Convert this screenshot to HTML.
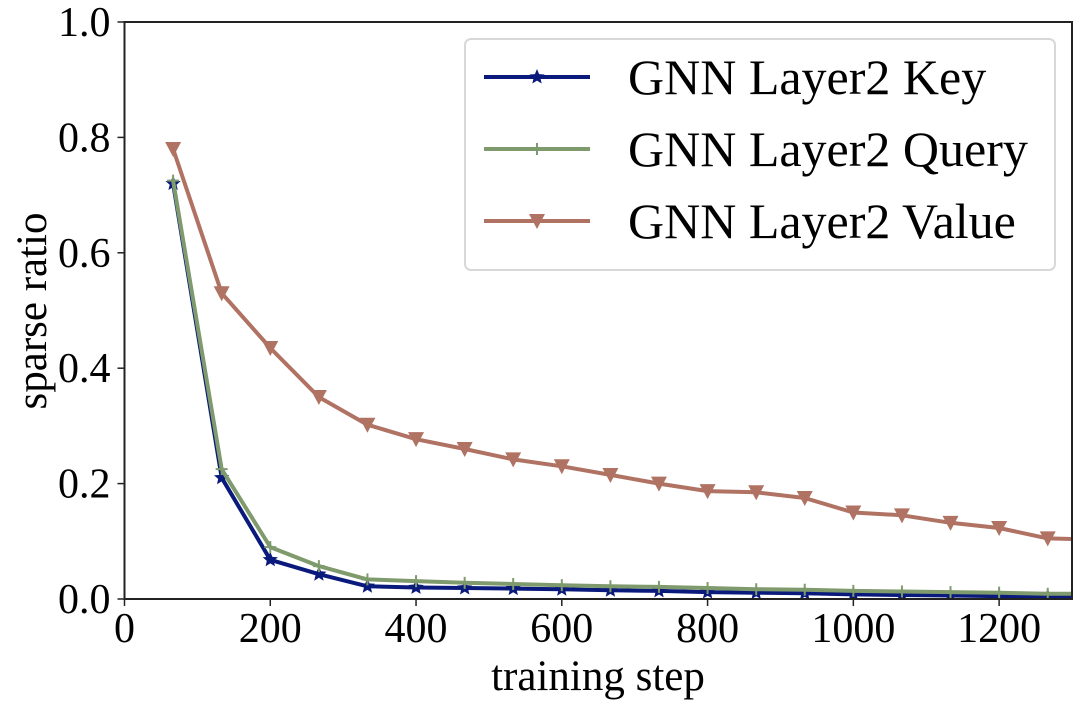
<!DOCTYPE html>
<html><head><meta charset="utf-8"><style>
body{margin:0;background:#fff}
svg text{font-family:"Liberation Serif",serif;fill:#000}
</style></head><body>
<svg id="chart" width="1080" height="700" viewBox="0 0 1080 700">
<defs><clipPath id="plotclip"><rect x="124" y="22" width="948" height="578"/></clipPath></defs>
<g id="plot" clip-path="url(#plotclip)"></g>
<g id="axes"></g>
<text x="598" y="690" font-size="43" text-anchor="middle">training step</text>
<text transform="translate(46,311) rotate(-90)" font-size="43" text-anchor="middle">sparse ratio</text>
<g id="legend">
<rect x="465" y="39" width="590" height="231" rx="6" fill="#fff" stroke="#d8d8d8" stroke-width="2"/>
</g>
</svg>
<script>
const steps=[66.7,133.3,200,266.7,333.3,400,466.7,533.3,600,666.7,733.3,800,866.7,933.3,1000,1066.7,1133.3,1200,1266.7,1333.3];
const keyVals=[0.72,0.21,0.068,0.043,0.022,0.02,0.019,0.018,0.017,0.015,0.014,0.012,0.011,0.01,0.008,0.007,0.006,0.005,0.004,0.004];
const queryVals=[0.725,0.225,0.09,0.057,0.034,0.031,0.028,0.026,0.024,0.022,0.021,0.019,0.017,0.016,0.014,0.013,0.012,0.011,0.009,0.009];
const valueVals=[0.78,0.53,0.435,0.35,0.302,0.277,0.26,0.242,0.23,0.215,0.2,0.187,0.185,0.175,0.15,0.145,0.132,0.123,0.105,0.103];
const xTicks=[0,200,400,600,800,1000,1200];
const yTicks=[0.0,0.2,0.4,0.6,0.8,1.0];
const seriesNames=["GNN Layer2 Key","GNN Layer2 Query","GNN Layer2 Value"];

const NS="http://www.w3.org/2000/svg";
const X0=124.5,X1=1072,Y0=599,Y1=22;
function sx(v){return X0+(v-0)/(1300-0)*(X1-X0);}
function sy(v){return Y0-(v-0)/(1-0)*(Y0-Y1);}
function mk(tag,attrs,parent){const e=document.createElementNS(NS,tag);for(const k in attrs)e.setAttribute(k,attrs[k]);parent.appendChild(e);return e;}
const plot=document.getElementById('plot'),axes=document.getElementById('axes'),legend=document.getElementById('legend');

function star(cx,cy,r){let p=[];for(let i=0;i<10;i++){const a=-Math.PI/2+i*Math.PI/5;const rr=i%2?r*0.45:r;p.push((cx+rr*Math.cos(a)).toFixed(1)+','+(cy+rr*Math.sin(a)).toFixed(1));}return p.join(' ');}
function marker(type,cx,cy,color,parent,name){
  let e;
  if(type==='star'){e=mk('polygon',{points:star(cx,cy,8),fill:color},parent);}
  else if(type==='plus'){e=mk('path',{d:`M${cx-6},${cy}H${cx+6}M${cx},${cy-6}V${cy+6}`,stroke:color,'stroke-width':2,fill:'none'},parent);}
  else {e=mk('polygon',{points:`${cx-8},${cy-7} ${cx+8},${cy-7} ${cx},${cy+8}`,fill:color},parent);}
  
  
}
const series=[[keyVals,'#0a1a7c','star','key'],[queryVals,'#7f9a6c','plus','query'],[valueVals,'#b07262','tri','value']];
series.forEach(([vals,color,m,id])=>{
  const pts=steps.map((s,i)=>sx(s).toFixed(1)+','+sy(vals[i]).toFixed(1)).join(' ');
  const l=mk('polyline',{points:pts,fill:'none',stroke:color,'stroke-width':4,'stroke-linejoin':'round'},plot);
  
  
  steps.forEach((s,i)=>marker(m,sx(s),sy(vals[i]),color,plot,id+'-point'));
});

mk('rect',{x:X0,y:Y1,width:X1-X0,height:Y0-Y1,fill:'none',stroke:'#222','stroke-width':2},axes);
xTicks.forEach(t=>{
  mk('line',{x1:sx(t),x2:sx(t),y1:Y0,y2:Y0+7,stroke:'#222','stroke-width':1.5},axes);
  const tx=mk('text',{x:sx(t),y:Y0+43,'font-size':42,'text-anchor':'middle'},axes);tx.textContent=t;
  
  
});
yTicks.forEach(t=>{
  mk('line',{x1:X0-7,x2:X0,y1:sy(t),y2:sy(t),stroke:'#222','stroke-width':1.5},axes);
  const tx=mk('text',{x:X0-14,y:sy(t)+14,'font-size':42,'text-anchor':'end'},axes);tx.textContent=t.toFixed(1);
  
  
});

series.forEach(([vals,color,m,id],i)=>{
  const y=77+i*72;
  const g=mk('g',{},legend);
  
  
  mk('line',{x1:484,x2:590,y1:y,y2:y,stroke:color,'stroke-width':4},g);
  marker(m,537,y,color,g,'legend-marker');
  const t=mk('text',{x:628,y:y+17,'font-size':50},g);t.textContent=seriesNames[i];
});
</script>
</body></html>
